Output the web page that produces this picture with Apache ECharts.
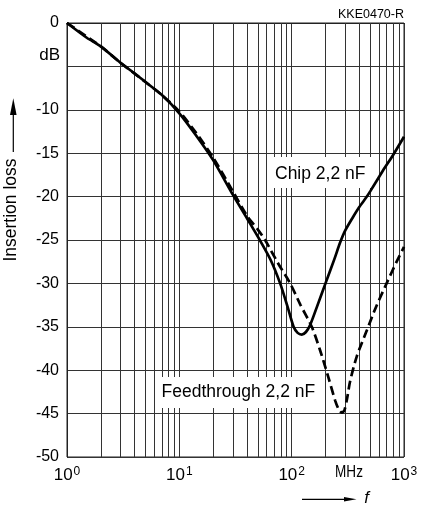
<!DOCTYPE html>
<html><head><meta charset="utf-8">
<script src="https://cdn.jsdelivr.net/npm/echarts@6/dist/echarts.min.js"></script>
<style>html,body{margin:0;padding:0;background:#fff}#c{width:421px;height:507px}</style>
</head><body><div id="c"></div>
<script>
// ---- data ----
const chipFreq = [1, 1.5, 2, 3, 4, 5, 7, 10, 14, 20, 30, 40, 52, 65, 79, 92, 104, 113, 123, 134, 146, 170, 200, 240, 270, 300, 350, 400, 467, 500, 650, 800, 1000];
const chipLoss = [0, -1.7, -2.7, -4.6, -5.8, -6.8, -8.3, -10.4, -12.9, -15.8, -19.8, -22.5, -25.0, -27.3, -30.0, -32.7, -35.0, -35.7, -35.9, -35.6, -34.8, -32.5, -30.0, -27.2, -25.3, -23.9, -22.4, -21.2, -20.0, -19.4, -17.0, -15.2, -13.1];
const feedFreq = [1, 2, 3, 5, 7, 10, 14, 20, 30, 40, 50, 58, 75, 97, 120, 151, 179, 212, 244, 262, 280, 295, 310, 331, 380, 467, 560, 700, 860, 1000];
const feedLoss = [0, -2.7, -4.6, -6.8, -8.3, -10.2, -12.6, -15.5, -19.4, -22.2, -23.8, -25.0, -27.6, -30.0, -32.5, -35.0, -37.7, -40.8, -43.5, -44.5, -44.9, -44.6, -43.4, -41.3, -38.4, -35.4, -32.8, -30.0, -27.5, -25.8];
const xLabelTicks = [1, 10, 100, 1000];
const xLabelExponents = ['0', '1', '2', '3'];
const xMinorGrid = [2, 3, 4, 5, 6, 7, 8, 9, 20, 30, 40, 50, 60, 70, 80, 90, 200, 300, 400, 500, 600, 700, 800, 900];
const yMin = -50, yMax = 0, yStep = 5;
const yUnitTick = -5;
const yUnitLabel = 'dB';
const xUnitLabel = 'MHz';
const chipName = 'Chip 2,2 nF';
const feedName = 'Feedthrough 2,2 nF';
const yName = 'Insertion loss';
const xName = 'f';
const codeLabel = 'KKE0470-R';

const FONT = 'Liberation Sans, Arial, Helvetica, sans-serif';
const GRID = '#333';

const chart = echarts.init(document.getElementById('c'), null, {renderer: 'canvas'});

const zip = (xs, ys) => xs.map((x, i) => [x, ys[i]]);

chart.setOption({
  animation: false,
  backgroundColor: '#fff',
  grid: {left: 67, right: 17, top: 23, bottom: 50, show: true, borderColor: '#222', borderWidth: 1},
  xAxis: {
    type: 'log', logBase: 10, min: 1, max: 1000, z: 0,
    axisLine: {show: true, lineStyle: {color: '#222', width: 1}},
    axisTick: {show: false},
    splitLine: {show: true, lineStyle: {color: GRID, width: 1}},
    axisLabel: {
      margin: 9,
      color: '#000',
      formatter: function (v) {
        const idx = xLabelTicks.findIndex(t => Math.abs(Math.log10(t) - Math.log10(v)) < 1e-6);
        if (idx < 0) return '';
        return '{b|10}{s|' + xLabelExponents[idx] + '}';
      },
      rich: {
        b: {fontSize: 17, fontFamily: FONT, color: '#000', lineHeight: 18, verticalAlign: 'bottom'},
        s: {fontSize: 12, fontFamily: FONT, color: '#000', lineHeight: 12, verticalAlign: 'top', padding: [0, 0, 0, 1]}
      }
    }
  },
  yAxis: {
    type: 'value', min: yMin, max: yMax, interval: yStep, z: 0,
    axisLine: {show: true, lineStyle: {color: '#222', width: 1}},
    axisTick: {show: false},
    splitLine: {show: true, lineStyle: {color: GRID, width: 1}},
    axisLabel: {
      margin: 8, color: '#000', fontSize: 16, fontFamily: FONT,
      formatter: v => (v === yUnitTick ? '' : String(v))
    }
  },
  series: [
    {
      type: 'line', data: [], z: 1, silent: true,
      markLine: {
        silent: true, symbol: ['none', 'none'], animation: false, z: 1,
        label: {show: false},
        lineStyle: {color: GRID, width: 1, type: 'solid'},
        emphasis: {disabled: true},
        data: xMinorGrid.map(v => ({xAxis: v}))
      }
    },
    {
      name: chipName, type: 'line', z: 100, data: zip(chipFreq, chipLoss),
      showSymbol: false, smooth: 0.25,
      lineStyle: {color: '#000', width: 2.7}
    },
    {
      name: feedName, type: 'line', z: 100, data: zip(feedFreq, feedLoss),
      showSymbol: false, smooth: 0.25,
      lineStyle: {color: '#000', width: 2.7, type: [9, 4.5]}
    }
  ],
  graphic: {
    z: 50,
    elements: [
      {type: 'rect', z: 50, shape: {x: 270, y: 157, width: 102, height: 31}, style: {fill: '#fff'}},
      {type: 'text', z: 51, x: 275, y: 174, style: {text: chipName, font: '17.5px ' + FONT, fill: '#000', verticalAlign: 'middle'}},
      {type: 'rect', z: 50, shape: {x: 155, y: 377, width: 168, height: 31}, style: {fill: '#fff'}},
      {type: 'text', z: 51, x: 161.5, y: 392.5, style: {text: feedName, font: '17.5px ' + FONT, fill: '#000', verticalAlign: 'middle'}},
      {type: 'text', z: 51, x: 404, y: 14.5, style: {text: codeLabel, font: '12.5px ' + FONT, fill: '#000', align: 'right', verticalAlign: 'middle'}},
      {type: 'text', z: 51, x: 60, y: 55.5, style: {text: yUnitLabel, font: '17px ' + FONT, fill: '#000', align: 'right', verticalAlign: 'middle'}},
      {type: 'text', z: 51, x: 349, y: 472.5, scaleX: 0.82, style: {text: xUnitLabel, font: '16.5px ' + FONT, fill: '#000', align: 'center', verticalAlign: 'middle'}},
      {type: 'line', z: 51, shape: {x1: 302, y1: 499.3, x2: 346, y2: 499.3}, style: {stroke: '#000', lineWidth: 1.2}},
      {type: 'polygon', z: 51, shape: {points: [[344, 497], [356.5, 499.3], [344, 501.6]]}, style: {fill: '#000'}},
      {type: 'text', z: 51, x: 366.5, y: 498.5, style: {text: xName, font: 'italic 17px ' + FONT, fill: '#000', align: 'center', verticalAlign: 'middle'}},
      {type: 'text', z: 51, x: 11.5, y: 210, rotation: Math.PI / 2, style: {text: yName, font: '17.5px ' + FONT, fill: '#000', align: 'center', verticalAlign: 'middle'}},
      {type: 'line', z: 51, shape: {x1: 13.3, y1: 152, x2: 13.3, y2: 112}, style: {stroke: '#000', lineWidth: 1.2}},
      {type: 'polygon', z: 51, shape: {points: [[10, 115], [13.3, 98.3], [16.6, 115]]}, style: {fill: '#000'}}
    ]
  }
});
</script>
</body></html>
